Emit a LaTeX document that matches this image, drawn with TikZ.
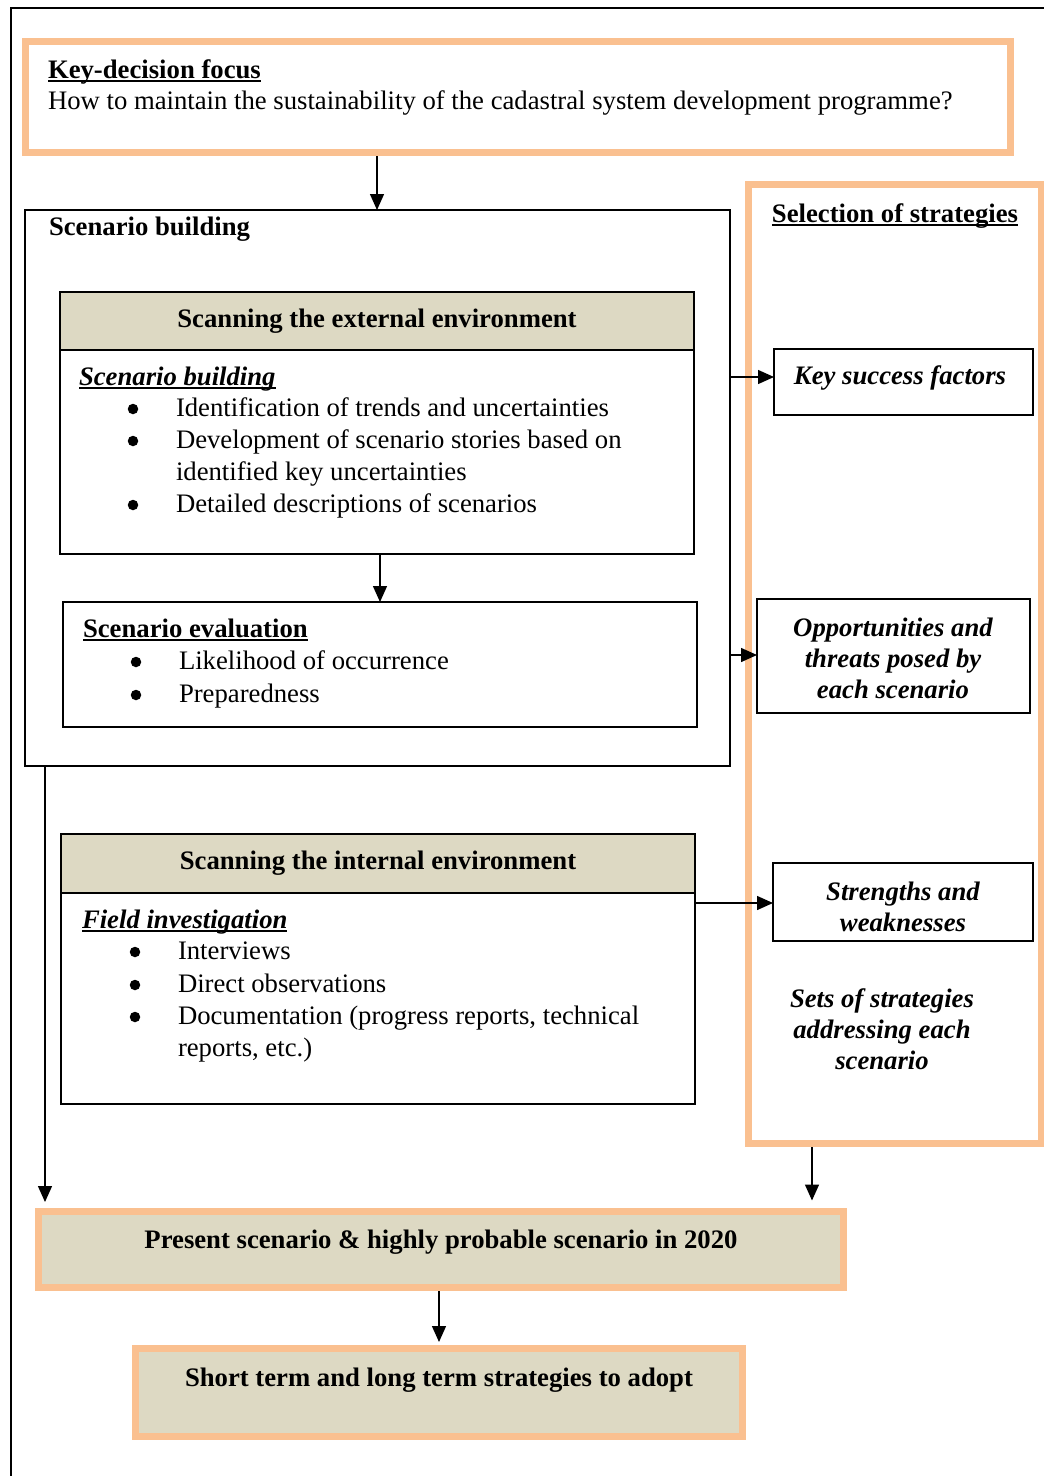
\documentclass[tikz,border=0pt]{standalone}
\usepackage{fontspec}
\setmainfont{Liberation Serif}
\usetikzlibrary{arrows.meta,calc}
\definecolor{peach}{HTML}{FAC090}
\definecolor{tanfill}{HTML}{DDD9C3}
% underline drawn a fixed distance below the baseline
\newcommand{\ulbox}[1]{\setbox0\hbox{#1}\rlap{\rule[-3.5pt]{\wd0}{1.8pt}}\box0}
\begin{document}
\begin{tikzpicture}[x=1pt,y=-1pt,
  every node/.style={font=\fontsize{26.7}{31}\selectfont, inner sep=0pt, outer sep=0pt},
  txt/.style={anchor=base west},
  bul/.style={circle, fill, minimum size=10.5pt},
  frame/.style={draw, anchor=north west, line width=1.6pt},
  orangebox/.style={draw=peach, anchor=north west, line width=7pt},
  header/.style={draw, fill=tanfill, anchor=north west, line width=1.4pt, font=\fontsize{26.7}{31}\selectfont\bfseries},
  arr/.style={line width=1.4pt, -{Triangle[length=16pt,width=14pt]}},
  bi/.style={font=\fontsize{26.7}{31}\selectfont\bfseries\itshape, align=center}]
\useasboundingbox (0,0) rectangle (1044,1476);

% page frame (left and top rules)
\draw[line width=2pt] (11,1490) -- (11,8) -- (1060,8);

% key-decision focus
\node[orangebox, minimum width=984.5pt, minimum height=111pt] (kd) at (25.5,41.5) {};
\node[txt] (kdt) at (48,78) {\bfseries\ulbox{Key-decision focus}};
\node[txt] (kdq) at (48,109) {How to maintain the sustainability of the cadastral system development programme?};

% scenario building block
\node[frame, line width=2.2pt, minimum width=705pt, minimum height=556pt] (sb) at (25,210) {};
\node[txt] (sbt) at (49,235) {\bfseries Scenario building};

% external environment
\node[frame, line width=1.4pt, minimum width=634pt, minimum height=262pt] (ext) at (60,292) {};
\node[header, minimum width=634pt, minimum height=58pt] (exth) at (60,292) {Scanning the external environment};
\node[txt] (e0) at (79,385) {\bfseries\itshape\ulbox{Scenario building}};
\node[bul] (e1b) at (133,409) {};
\node[txt] (e1) at (176,416) {Identification of trends and uncertainties};
\node[bul] (e2b) at (133,441) {};
\node[txt] (e2) at (176,448) {Development of scenario stories based on};
\node[txt] (e3) at (176,480) {identified key uncertainties};
\node[bul] (e4b) at (133,505) {};
\node[txt] (e4) at (176,512) {Detailed descriptions of scenarios};

% scenario evaluation
\node[frame, line width=1.4pt, minimum width=634pt, minimum height=125pt] (ev) at (63,602) {};
\node[txt] (v0) at (83,637) {\bfseries\ulbox{Scenario evaluation}};
\node[bul] (v1b) at (136,662) {};
\node[txt] (v1) at (179,669) {Likelihood of occurrence};
\node[bul] (v2b) at (136,695) {};
\node[txt] (v2) at (179,702) {Preparedness};

% internal environment
\node[frame, line width=1.4pt, minimum width=634pt, minimum height=270pt] (ie) at (61,834) {};
\node[header, minimum width=634pt, minimum height=59pt] (ieh) at (61,834) {Scanning the internal environment};
\node[txt] (i0) at (82,928) {\bfseries\itshape\ulbox{Field investigation}};
\node[bul] (i1b) at (135,952) {};
\node[txt] (i1) at (178,959) {Interviews};
\node[bul] (i2b) at (135,985) {};
\node[txt] (i2) at (178,992) {Direct observations};
\node[bul] (i3b) at (135,1017) {};
\node[txt] (i3) at (178,1024) {Documentation (progress reports, technical};
\node[txt] (i4) at (178,1056) {reports, etc.)};

% selection of strategies
\node[orangebox, minimum width=292.5pt, minimum height=959pt] (sel) at (748.5,184.5) {};
\node[anchor=base] (selt) at (895,222) {\bfseries\ulbox{Selection of strategies}};
\node[frame, line width=1.4pt, minimum width=259pt, minimum height=66pt] (ksf) at (774,349) {};
\node[bi] (ksft) at (900,378) {Key success factors};
\node[frame, line width=1.4pt, minimum width=273pt, minimum height=114pt] (opp) at (757,599) {};
\node[bi] (oppt) at (893,658) {Opportunities and\\threats posed by\\each scenario};
\node[frame, line width=1.4pt, minimum width=260pt, minimum height=78pt] (sw) at (773,863) {};
\node[bi] (swt) at (903,907) {Strengths and\\weaknesses};
\node[bi] (sets) at (882,1029) {Sets of strategies\\addressing each\\scenario};

% outcome boxes
\node[orangebox, fill=tanfill, minimum width=805pt, minimum height=76pt] (ps) at (38.5,1211.5) {};
\node[anchor=base] (pst) at (441,1248) {\bfseries Present scenario \& highly probable scenario in 2020};
\node[orangebox, fill=tanfill, minimum width=607pt, minimum height=88pt] (st) at (135.5,1348.5) {};
\node[anchor=base] (stt) at (439,1386) {\bfseries Short term and long term strategies to adopt};

% connectors
\coordinate (c1) at (377,0);
\coordinate (c2) at (380,0);
\coordinate (c3) at (45,0);
\coordinate (c4) at (812,0);
\coordinate (c5) at (439,0);
\coordinate (r1) at (0,377);
\coordinate (r2) at (0,655);
\coordinate (r3) at (0,903);
\draw[arr, shorten <=3.5pt] (kd.south -| c1) -- (sb.north -| c1);
\draw[arr] (ext.south -| c2) -- (ev.north -| c2);
\draw[arr] (sb.east |- r1) -- (ksf.west |- r1);
\draw[arr] (sb.east |- r2) -- (opp.west |- r2);
\draw[arr] (ie.east |- r3) -- (sw.west |- r3);
\draw[arr, shorten >=9.5pt] (sb.south -| c3) -- (ps.north -| c3);
\draw[arr, shorten <=3.5pt, shorten >=11pt] (sel.south -| c4) -- (ps.north -| c4);
\draw[arr, shorten <=3.5pt, shorten >=6.5pt] (ps.south -| c5) -- (st.north -| c5);
\end{tikzpicture}
\end{document}
